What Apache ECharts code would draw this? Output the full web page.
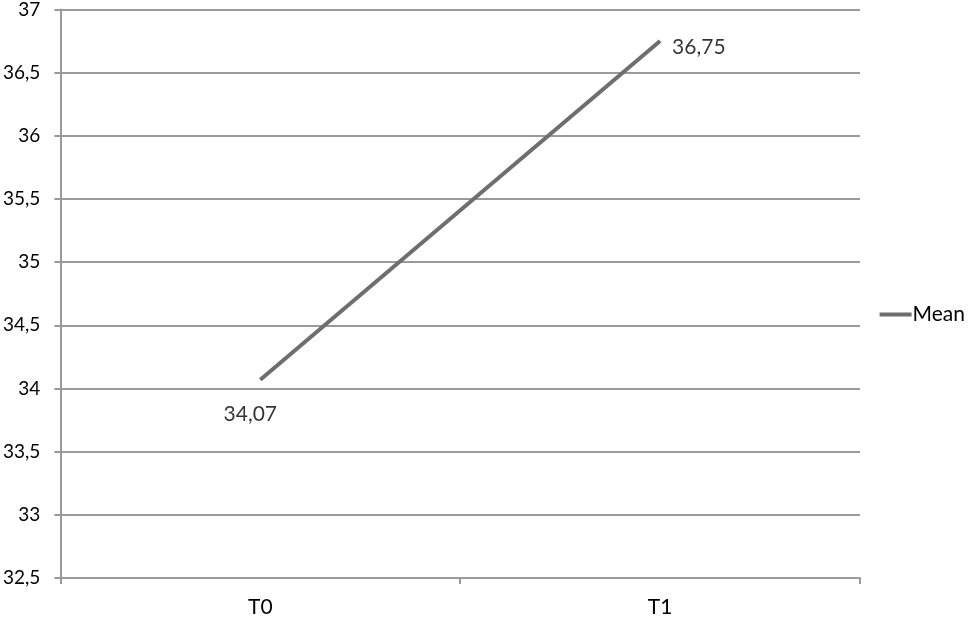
<!DOCTYPE html>
<html>
<head>
<meta charset="utf-8">
<script src="https://cdn.jsdelivr.net/npm/echarts@6/dist/echarts.min.js"></script>
<style>
  html, body { margin: 0; padding: 0; background: #fff; }
  #chart { width: 976px; height: 629px; }
</style>
</head>
<body>
<div id="chart"></div>
<script>
const categories = ["T0", "T1"];
const meanValues = [34.07, 36.75];
const seriesName = "Mean";

const comma = (v) => String(v).replace(".", ",");

const chart = echarts.init(document.getElementById("chart"));
chart.setOption({
  animation: false,
  textStyle: { fontFamily: "Lato, 'Open Sans', sans-serif" },
  grid: { left: 58, right: 116, top: 8, bottom: 51 },
  legend: {
    right: 6,
    top: 299,
    orient: "vertical",
    itemWidth: 32,
    itemHeight: 4,
    itemGap: 4,
    icon: "rect",
    data: [seriesName],
    textStyle: { fontSize: 21, color: "#000", padding: [0, 0, 0, -4] }
  },
  xAxis: {
    type: "category",
    data: categories,
    boundaryGap: true,
    axisLine: { lineStyle: { color: "#9a9a9a", width: 2 } },
    axisTick: { show: true, length: 6, lineStyle: { color: "#9a9a9a", width: 2 } },
    axisLabel: { fontSize: 21, color: "#000", margin: 19 }
  },
  yAxis: {
    type: "value",
    min: 32.5,
    max: 37,
    interval: 0.5,
    axisLine: { show: true, lineStyle: { color: "#9a9a9a", width: 2 } },
    axisTick: { show: true, length: 6, lineStyle: { color: "#9a9a9a", width: 2 } },
    splitLine: { lineStyle: { color: "#9a9a9a", width: 2 } },
    axisLabel: { fontSize: 19, color: "#000", margin: 20, formatter: comma }
  },
  series: [{
    name: seriesName,
    type: "line",
    data: meanValues,
    symbol: "none",
    itemStyle: { color: "#6e6e6e" },
    lineStyle: { color: "#6e6e6e", width: 4 },
    label: { show: false }
  }, {
    name: "labels",
    type: "scatter",
    data: [
      { value: [0, meanValues[0]], label: { position: "bottom", offset: [-10, 19] } },
      { value: [1, meanValues[1]], label: { position: "right", offset: [7, 6] } }
    ],
    symbolSize: 0,
    silent: true,
    label: {
      show: true,
      fontSize: 21,
      color: "#000",
      formatter: (p) => comma(p.value[1].toFixed(2))
    }
  }]
});
</script>
</body>
</html>
